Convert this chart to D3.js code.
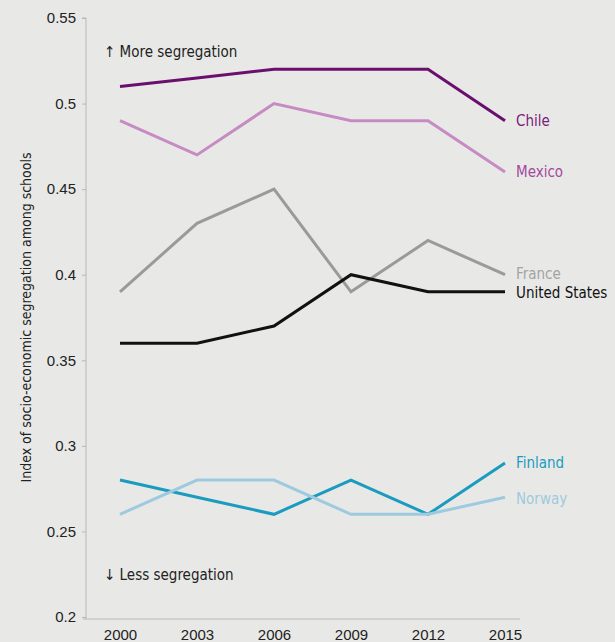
<!DOCTYPE html>
<html lang="en">
<head>
    <meta charset="UTF-8">
    <title>Socio-economic segregation</title>
    <script src="https://d3js.org/d3.v7.min.js"></script>
    <style>
        html, body {
            margin: 0;
            background: #e8e9e6;
            font-family: 'Liberation Sans Narrow', 'DejaVu Sans Condensed', 'Roboto', sans-serif;
        }
        svg { display: block; }
        .axis text { font-size: 15px; fill: #222; }
        .axis path, .axis line { stroke: #b8b9b6; }
        .series-label { font-size: 15px; }
    </style>
</head>
<body>
    <svg width="615" height="642"></svg>
    <script>
        // Data
        const years = ["2000", "2003", "2006", "2009", "2012", "2015"];
        const chile = [0.51, 0.515, 0.52, 0.52, 0.52, 0.49];
        const mexico = [0.49, 0.47, 0.50, 0.49, 0.49, 0.46];
        const france = [0.39, 0.43, 0.45, 0.39, 0.42, 0.40];
        const unitedStates = [0.36, 0.36, 0.37, 0.40, 0.39, 0.39];
        const finland = [0.28, 0.27, 0.26, 0.28, 0.26, 0.29];
        const norway = [0.26, 0.28, 0.28, 0.26, 0.26, 0.27];
        const yTicks = [0.2, 0.25, 0.3, 0.35, 0.4, 0.45, 0.5, 0.55];

        const series = [
            { name: "Chile", values: chile, color: "#6a0f6e", text: "#7a1d7c", dy: 0 },
            { name: "Mexico", values: mexico, color: "#c78bc3", text: "#a4489f", dy: 0 },
            { name: "France", values: france, color: "#9a9a9a", text: "#a3a3a3", dy: -1 },
            { name: "United States", values: unitedStates, color: "#111111", text: "#111111", dy: 1 },
            { name: "Finland", values: finland, color: "#1b9bbf", text: "#1b9bbf", dy: 0 },
            { name: "Norway", values: norway, color: "#9ecae0", text: "#9ecae0", dy: 2 }
        ];

        const svg = d3.select("svg");
        const margin = { top: 18, right: 95, bottom: 25, left: 86 };
        const width = 615, height = 642;

        const x = d3.scalePoint()
            .domain(years)
            .range([120, 505]);

        const y = d3.scaleLinear()
            .domain([0.2, 0.55])
            .range([617, 18]);

        // y axis
        svg.append("g")
            .attr("class", "axis")
            .attr("transform", `translate(${margin.left},0)`)
            .call(d3.axisLeft(y).tickValues(yTicks).tickSize(4).tickPadding(6)
                .tickFormat(d => d3.format("")(+d.toFixed(2))))
            .call(g => g.select(".domain").attr("d", `M-4,${y(0.55)}H0V${y(0.2) + 2}`));

        // x axis
        svg.append("g")
            .attr("class", "axis")
            .attr("transform", `translate(0,${y(0.2) + 2})`)
            .call(d3.axisBottom(x).tickSize(0).tickPadding(10))
            .call(g => g.select(".domain").attr("d", "M83,0H520"));

        // y title
        svg.append("text")
            .attr("transform", `translate(31,${(y(0.55) + y(0.2)) / 2}) rotate(-90)`)
            .attr("text-anchor", "middle")
            .style("font-size", "14px")
            .attr("fill", "#222")
            .text("Index of socio-economic segregation among schools");

        // annotations
        svg.append("text")
            .attr("x", 104).attr("y", 57)
            .style("font-size", "15px").attr("fill", "#222")
            .text("\u2191 More segregation");
        svg.append("text")
            .attr("x", 104).attr("y", 580)
            .style("font-size", "15px").attr("fill", "#222")
            .text("\u2193 Less segregation");

        const line = d3.line()
            .x((d, i) => x(years[i]))
            .y(d => y(d));

        svg.append("g")
            .selectAll("path")
            .data(series)
            .enter().append("path")
            .attr("d", d => line(d.values))
            .attr("fill", "none")
            .attr("stroke", d => d.color)
            .attr("stroke-width", 3)
            .attr("stroke-linejoin", "miter");

        svg.append("g")
            .selectAll("text")
            .data(series)
            .enter().append("text")
            .attr("class", "series-label")
            .attr("x", 516)
            .attr("y", d => y(d.values[d.values.length - 1]) + d.dy)
            .attr("dy", "0.35em")
            .attr("fill", d => d.text)
            .text(d => d.name);
    </script>
</body>
</html>
